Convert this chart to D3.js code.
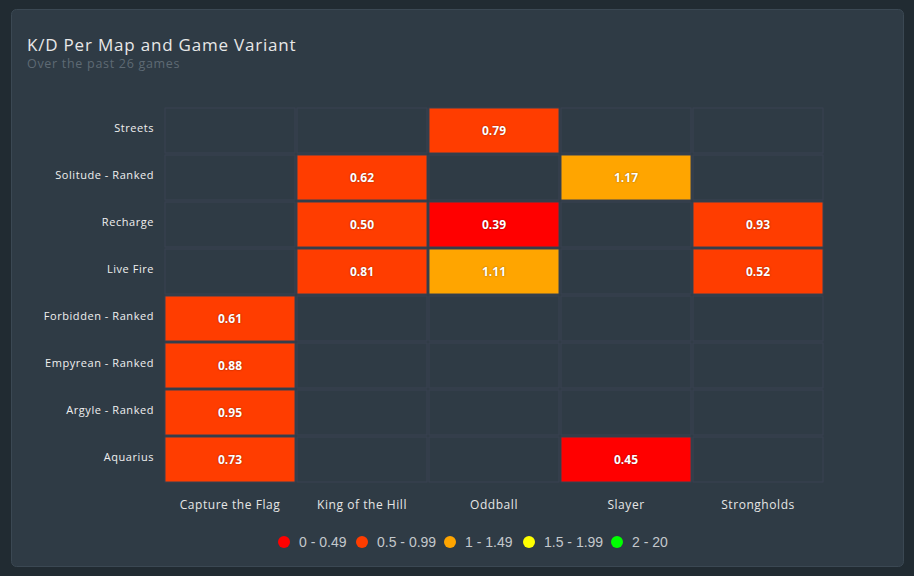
<!DOCTYPE html>
<html><head><meta charset="utf-8">
<script src="https://cdn.jsdelivr.net/npm/d3@7"></script>
<style>
html,body{margin:0;padding:0;background:#212b32;}
svg{display:block;}
</style></head>
<body>
<svg id="chart" width="914" height="576"></svg>
<script>
const maps = ["Streets","Solitude - Ranked","Recharge","Live Fire","Forbidden - Ranked","Empyrean - Ranked","Argyle - Ranked","Aquarius"];
const variants = ["Capture the Flag","King of the Hill","Oddball","Slayer","Strongholds"];
// values per map row, in variant order (null = no games)
const streets   = [null, null, 0.79, null, null];
const solitude  = [null, 0.62, null, 1.17, null];
const recharge  = [null, 0.50, 0.39, null, 0.93];
const liveFire  = [null, 0.81, 1.11, null, 0.52];
const forbidden = [0.61, null, null, null, null];
const empyrean  = [0.88, null, null, null, null];
const argyle    = [0.95, null, null, null, null];
const aquarius  = [0.73, null, null, 0.45, null];
const rows = [streets, solitude, recharge, liveFire, forbidden, empyrean, argyle, aquarius];
const rangeLabels = ["0 - 0.49","0.5 - 0.99","1 - 1.49","1.5 - 1.99","2 - 20"];
const rangeBounds = [0.5, 1, 1.5, 2];
const rangeColors = ["#ff0000","#ff3d00","#ffa500","#ffff00","#00ff00"];

const svg = d3.select("#chart");
svg.append("rect").attr("x",11.5).attr("y",9.5).attr("width",892).attr("height",557)
  .attr("rx",5).attr("fill","#2f3b45").attr("stroke","#3b4853");

svg.append("text").attr("x",27).attr("y",51).text("K/D Per Map and Game Variant")
  .attr("font-family","Open Sans, sans-serif").attr("font-size",17).attr("font-weight",500)
  .attr("letter-spacing",0.8).attr("fill","#e8e8e8");
svg.append("text").attr("x",27).attr("y",68).text("Over the past 26 games")
  .attr("font-family","Open Sans, sans-serif").attr("font-size",12.5).attr("letter-spacing",0.7).attr("fill","#5e6a74");

const x = d3.scaleBand().domain(variants).range([164,824]);
const y = d3.scaleBand().domain(maps).range([107,483]);
const color = d3.scaleThreshold().domain(rangeBounds).range(rangeColors);

const cells = [];
rows.forEach((r,i)=>r.forEach((v,j)=>cells.push({map:maps[i],variant:variants[j],v})));

const g = svg.append("g");
g.selectAll("rect.cell").data(cells).enter().append("rect")
  .attr("x",d=>x(d.variant)+1).attr("y",d=>y(d.map)+1)
  .attr("width",x.bandwidth()-2).attr("height",y.bandwidth()-2)
  .attr("fill",d=>d.v==null?"#2f3b45":color(d.v))
  .attr("stroke","#3a4252").attr("stroke-width",1);

g.selectAll("text.val").data(cells.filter(d=>d.v!=null)).enter().append("text")
  .attr("x",d=>x(d.variant)+x.bandwidth()/2).attr("y",d=>y(d.map)+y.bandwidth()/2+4.5)
  .attr("text-anchor","middle").text(d=>d.v.toFixed(2))
  .attr("font-family","Open Sans, sans-serif").attr("font-weight",700).attr("font-size",12)
  .attr("fill","#ffffff").style("text-shadow","0 0 2px rgba(0,0,0,0.45)");

// axes
const yAxis = svg.append("g").attr("transform","translate(154,0)")
  .call(d3.axisLeft(y).tickSize(0).tickPadding(0));
yAxis.select(".domain").remove();
yAxis.selectAll("text").attr("font-family","Open Sans, sans-serif").attr("font-size",11)
  .attr("letter-spacing",0.55).attr("fill","#f0f0f0").attr("dy","0.1em");

const xAxis = svg.append("g").attr("transform","translate(0,500)")
  .call(d3.axisBottom(x).tickSize(0).tickPadding(0));
xAxis.select(".domain").remove();
xAxis.selectAll("text").attr("font-family","Open Sans, sans-serif").attr("font-size",12)
  .attr("letter-spacing",0.55).attr("fill","#e6e6e6");

// legend
const legX = [284, 362, 450, 529, 617];
const leg = svg.append("g");
rangeLabels.forEach((lab,i)=>{
  leg.append("circle").attr("cx",legX[i]).attr("cy",542).attr("r",6).attr("fill",rangeColors[i]);
  leg.append("text").attr("x",legX[i]+15).attr("y",547).text(lab)
    .attr("font-family","Liberation Sans, Arial, sans-serif").attr("font-size",14).attr("fill","#c4c8cc");
});
</script>
</body></html>
